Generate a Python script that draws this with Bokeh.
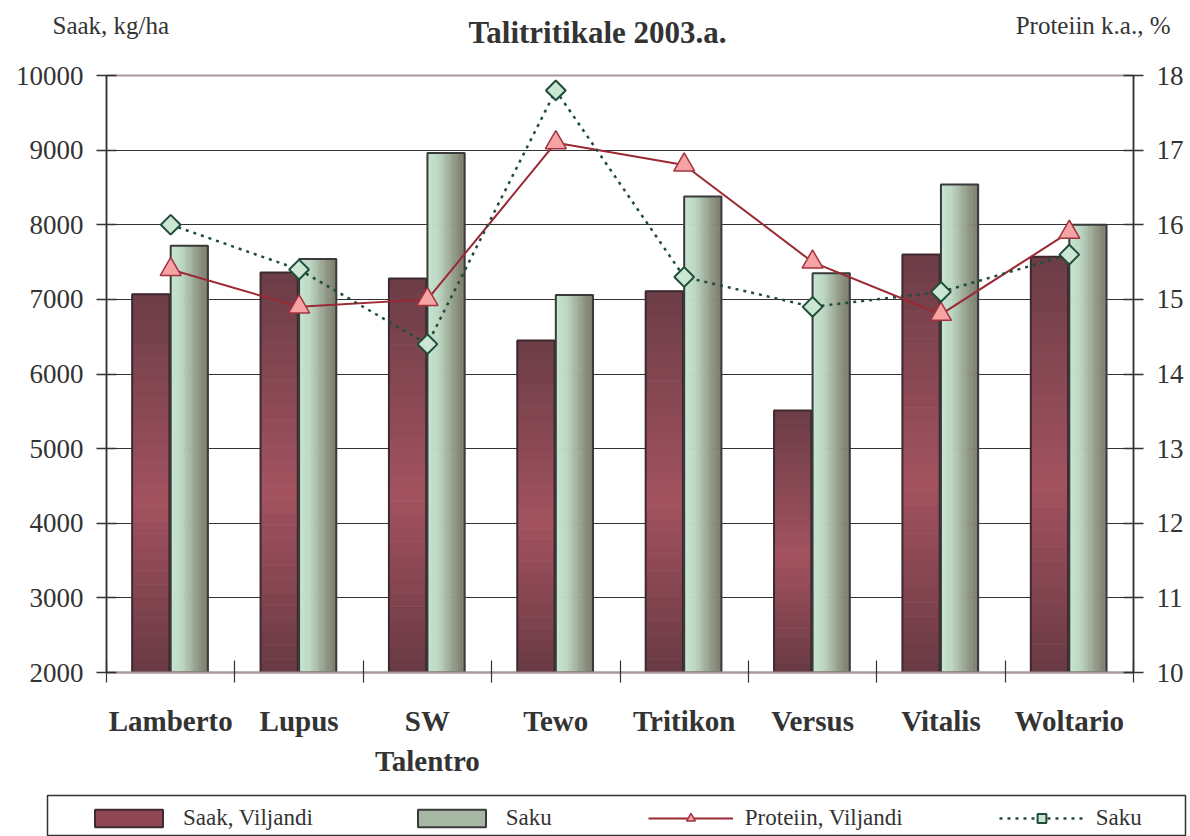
import numpy as np
from bokeh.plotting import figure
from bokeh.layouts import column, row
from bokeh.models import (Range1d, LinearAxis, FixedTicker, Legend,
                          LegendItem, ColumnDataSource)
from bokeh.core.properties import value
from bokeh.embed import file_html
from bokeh.resources import INLINE

# ---------------- data ----------------
categories = ["Lamberto", "Lupus", "SW Talentro", "Tewo", "Tritikon",
              "Versus", "Vitalis", "Woltario"]
category_labels = ["Lamberto", "Lupus", "SW\nTalentro", "Tewo", "Tritikon",
                   "Versus", "Vitalis", "Woltario"]
saak_viljandi = [7070, 7360, 7280, 6450, 7110, 5510, 7600, 7570]
saak_saku = [7720, 7540, 8960, 7060, 8380, 7350, 8540, 8000]
proteiin_viljandi = [15.4, 14.9, 15.0, 17.1, 16.8, 15.5, 14.8, 15.9]
proteiin_saku = [16.0, 15.4, 14.4, 17.8, 15.3, 14.9, 15.1, 15.6]
left_ticks = [2000, 3000, 4000, 5000, 6000, 7000, 8000, 9000, 10000]
right_ticks = [10, 11, 12, 13, 14, 15, 16, 17, 18]

title_text = "Talitritikale 2003.a."
left_title = "Saak, kg/ha"
right_title = "Proteiin k.a., %"
legend_labels = ["Saak, Viljandi", "Saku", "Proteiin, Viljandi", "Saku"]

# ---------------- style ----------------
FONT = "Liberation Serif"
TXT = "#333333"
W = 1190
HEAD_H = 50
MAIN_H = 744
LEG_H = 42
BL, BR, BT, BB = 106, 57, 25, 122

VIL_FILL, VIL_EDGE = "#8f4753", "#3d2a2f"
SAKU_FILL, SAKU_EDGE = "#a6b8a4", "#3a3a3a"
VIL_DARK, VIL_LINE = "#9b2833", "#a23340"
SAKU_DARK = "#1f4d3a"


def hex2rgb(h):
    h = h.lstrip("#")
    return np.array([int(h[i:i + 2], 16) for i in (0, 2, 4)], dtype=float)


def grad(stops, f):
    for (f0, c0), (f1, c1) in zip(stops[:-1], stops[1:]):
        if f <= f1:
            t = (f - f0) / (f1 - f0) if f1 > f0 else 0
            c = hex2rgb(c0) * (1 - t) + hex2rgb(c1) * t
            return "#%02x%02x%02x" % tuple(int(round(v)) for v in c)
    return stops[-1][1]


vil_stops = [(0.0, "#6b3d47"), (0.55, "#a3525f"), (1.0, "#693a44")]
saku_stops = [(0.0, "#c8e5d1"), (0.3, "#bcd7c3"), (0.55, "#a3b39f"),
              (0.8, "#8a8f7e"), (1.0, "#7b7b6b")]

n = len(categories)
xs = np.arange(n) + 0.5
BW = 0.29
OFF_V, OFF_S = -0.155, 0.145
base = left_ticks[0]


def blank(fig):
    fig.xgrid.visible = False
    fig.ygrid.visible = False
    fig.outline_line_color = None
    fig.background_fill_color = "white"
    fig.border_fill_color = "white"


# ---------------- header (titles) ----------------
head = figure(width=W, height=HEAD_H, x_range=Range1d(0, W), y_range=Range1d(0, HEAD_H),
              output_backend="svg", toolbar_location=None, title=None,
              x_axis_location=None, y_axis_location=None, min_border=0)
blank(head)
head.text(x=[597], y=[HEAD_H - 32], text=[title_text], text_font=value(FONT),
          text_font_style="bold", text_font_size="31px", text_color=TXT,
          text_align="center", text_baseline="middle")
head.text(x=[52], y=[HEAD_H - 25], text=[left_title], text_font=value(FONT),
          text_font_size="25px", text_color=TXT, text_align="left",
          text_baseline="middle")
head.text(x=[1170], y=[HEAD_H - 25], text=[right_title], text_font=value(FONT),
          text_font_size="25px", text_color=TXT, text_align="right",
          text_baseline="middle")

# ---------------- main chart ----------------
p = figure(width=W, height=MAIN_H, x_range=Range1d(0, n),
           y_range=Range1d(left_ticks[0], left_ticks[-1]),
           output_backend="svg", toolbar_location=None, title=None,
           min_border_left=BL, min_border_right=BR,
           min_border_top=BT, min_border_bottom=BB)
p.extra_y_ranges = {"prot": Range1d(right_ticks[0], right_ticks[-1])}
p.background_fill_color = "white"
p.border_fill_color = "white"
p.outline_line_color = "#a89a9a"
p.outline_line_width = 2

p.xgrid.visible = False
p.ygrid.ticker = FixedTicker(ticks=left_ticks[1:-1])
p.ygrid.grid_line_color = "#333333"
p.ygrid.grid_line_width = 1.2


def style_y(ax):
    ax.major_label_text_font = FONT
    ax.major_label_text_font_size = "27px"
    ax.major_label_text_color = TXT
    ax.axis_line_color = "#333333"
    ax.axis_line_width = 1.5
    ax.major_tick_line_color = "#333333"
    ax.major_tick_line_width = 1.5
    ax.major_tick_in = 10
    ax.major_tick_out = 10
    ax.minor_tick_line_color = None
    ax.major_label_standoff = 13


ya = p.yaxis[0]
ya.ticker = FixedTicker(ticks=left_ticks)
style_y(ya)
ra = LinearAxis(y_range_name="prot", ticker=FixedTicker(ticks=right_ticks))
style_y(ra)
p.add_layout(ra, "right")

xa = p.xaxis[0]
xa.ticker = FixedTicker(ticks=list(xs), minor_ticks=list(range(n + 1)))
xa.major_label_overrides = {float(x): lab for x, lab in zip(xs, category_labels)}
xa.major_label_text_font = FONT
xa.major_label_text_font_style = "bold"
xa.major_label_text_font_size = "29px"
xa.major_label_text_color = TXT
xa.major_label_text_line_height = 1.25
xa.major_tick_line_color = None
xa.major_tick_in = 0
xa.major_tick_out = 0
xa.minor_tick_line_color = "#333333"
xa.minor_tick_line_width = 1.2
xa.minor_tick_in = 12
xa.minor_tick_out = 10
xa.axis_line_color = "#a89a9a"
xa.axis_line_width = 2
xa.major_label_standoff = 22

# bars: gradient strips with outline
K = 30
seg = dict(x=[], bottom=[], top=[], color=[])
for x, v in zip(xs, saak_viljandi):
    for i in range(K):
        seg["x"].append(x + OFF_V)
        seg["bottom"].append(base + (v - base) * i / K)
        seg["top"].append(base + (v - base) * (i + 1) / K)
        seg["color"].append(grad(vil_stops, 1 - (i + 0.5) / K))
p.vbar(x="x", bottom="bottom", top="top", width=BW, fill_color="color",
       line_color="color", line_width=0.8, source=ColumnDataSource(seg))

KS = 16
strip = dict(x=[], top=[], color=[])
for x, v in zip(xs, saak_saku):
    for j in range(KS):
        strip["x"].append(x + OFF_S - BW / 2 + (j + 0.5) * BW / KS)
        strip["top"].append(v)
        strip["color"].append(grad(saku_stops, (j + 0.5) / KS))
p.vbar(x="x", bottom=base, top="top", width=BW / KS, fill_color="color",
       line_color="color", line_width=0.6, source=ColumnDataSource(strip))

p.vbar(x=xs + OFF_V, bottom=base, top=saak_viljandi, width=BW,
       fill_color=None, line_color=VIL_EDGE, line_width=2)
p.vbar(x=xs + OFF_S, bottom=base, top=saak_saku, width=BW,
       fill_color=None, line_color=SAKU_EDGE, line_width=2)

# protein lines
p.line(xs, proteiin_viljandi, y_range_name="prot", line_color=VIL_DARK, line_width=2)
p.scatter(xs, proteiin_viljandi, y_range_name="prot", marker="triangle",
          size=21, fill_color="#f5a3a3", line_color=VIL_LINE, line_width=1.5)
p.line(xs, proteiin_saku, y_range_name="prot", line_color=SAKU_DARK,
       line_width=2.5, line_dash="3 5")
p.scatter(xs, proteiin_saku, y_range_name="prot", marker="square",
          angle=np.pi / 4, size=14, fill_color="#cbe7d3",
          line_color=SAKU_DARK, line_width=2)

# ---------------- legend strip ----------------
lf = figure(width=W, height=LEG_H, x_range=Range1d(0, 1), y_range=Range1d(0, 1),
            output_backend="svg", toolbar_location=None, title=None,
            x_axis_location=None, y_axis_location=None,
            min_border_left=47, min_border_right=5, min_border_top=1,
            min_border_bottom=0)
blank(lf)
lf.outline_line_color = "#333333"
lf.outline_line_width = 1.5


def nan_src():
    return ColumnDataSource(dict(x=[np.nan], y=[np.nan], top=[np.nan]))


r_v = lf.vbar(x="x", top="top", width=1, source=nan_src(),
              fill_color=VIL_FILL, line_color=VIL_EDGE, line_width=2)
r_s = lf.vbar(x="x", top="top", width=1, source=nan_src(),
              fill_color=SAKU_FILL, line_color=SAKU_EDGE, line_width=2)
r_pl = lf.line(x="x", y="y", source=nan_src(), line_color=VIL_DARK, line_width=2)
r_pm = lf.scatter(x="x", y="y", source=nan_src(), marker="triangle", size=21,
                  fill_color="#f5a3a3", line_color=VIL_LINE, line_width=1.5)
r_sl = lf.line(x="x", y="y", source=nan_src(), line_color=SAKU_DARK,
               line_width=2.5, line_dash="3 5")
r_sm = lf.scatter(x="x", y="y", source=nan_src(), marker="square", angle=np.pi / 4,
                  size=14, fill_color="#cbe7d3", line_color=SAKU_DARK, line_width=2)

legend = Legend(items=[LegendItem(label=legend_labels[0], renderers=[r_v]),
                       LegendItem(label=legend_labels[1], renderers=[r_s]),
                       LegendItem(label=legend_labels[2], renderers=[r_pl, r_pm]),
                       LegendItem(label=legend_labels[3], renderers=[r_sl, r_sm])],
                location=(39, 5), orientation="horizontal",
                glyph_width=85, glyph_height=22, label_standoff=12, spacing=96,
                label_text_font=FONT, label_text_font_size="23px",
                label_text_color=TXT, padding=10, margin=0,
                border_line_color=None, background_fill_alpha=0)
lf.add_layout(legend)

layout = column(row(head), p, row(lf), spacing=0)
open("out.html", "w").write(file_html(layout, INLINE))
